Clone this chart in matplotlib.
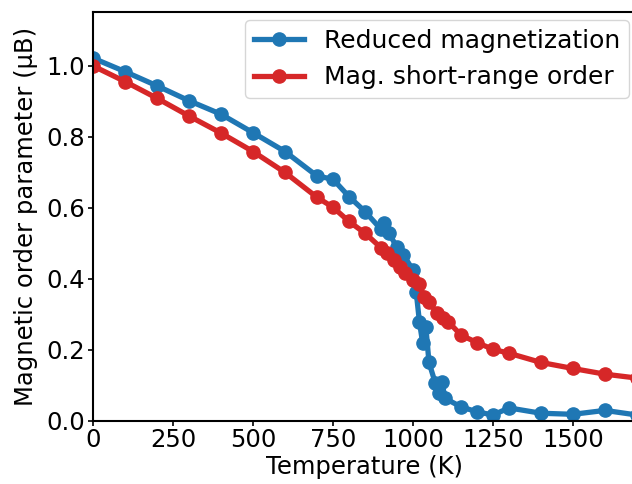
import matplotlib
matplotlib.use("Agg")
import matplotlib.pyplot as plt

# Reduced magnetization (blue)
T_mag = [0, 100, 200, 300, 400, 500, 600, 700, 750, 800, 850, 900, 910, 925,
         950, 970, 1000, 1010, 1020, 1030, 1040, 1050, 1070, 1080, 1090, 1100,
         1150, 1200, 1250, 1300, 1400, 1500, 1600, 1700]
M_mag = [1.021, 0.983, 0.943, 0.901, 0.863, 0.811, 0.758, 0.689, 0.680, 0.631,
         0.589, 0.539, 0.558, 0.528, 0.488, 0.467, 0.424, 0.363, 0.279, 0.220,
         0.265, 0.164, 0.105, 0.077, 0.110, 0.063, 0.039, 0.025, 0.016, 0.036,
         0.021, 0.018, 0.029, 0.016]

# Magnetic short-range order (red)
T_sro = [0, 100, 200, 300, 400, 500, 600, 700, 750, 800, 850, 900, 920, 940,
         960, 975, 1000, 1020, 1035, 1050, 1075, 1095, 1110, 1150, 1200, 1250,
         1300, 1400, 1500, 1600, 1700]
M_sro = [0.999, 0.955, 0.908, 0.858, 0.810, 0.758, 0.699, 0.629, 0.601, 0.561,
         0.528, 0.487, 0.471, 0.452, 0.433, 0.415, 0.397, 0.384, 0.347, 0.333,
         0.304, 0.289, 0.279, 0.241, 0.220, 0.201, 0.190, 0.164, 0.147, 0.131,
         0.120]

xticks = [0, 250, 500, 750, 1000, 1250, 1500]
yticks = [0.0, 0.2, 0.4, 0.6, 0.8, 1.0]

plt.rcParams['font.family'] = ['DejaVu Sans']
plt.rcParams['font.size'] = 17.5

fig = plt.figure(figsize=(6.32, 4.84), dpi=100)
W, H = 632, 484
left, right, top, bottom = 93, 637, 12.3, 420.7
ax = fig.add_axes([left / W, 1 - bottom / H, (right - left) / W, (bottom - top) / H])

ax.plot(T_mag, M_mag, '-o', color='#1f77b4', lw=3.8, ms=9.5, label='Reduced magnetization')
ax.plot(T_sro, M_sro, '-o', color='#d62728', lw=3.8, ms=9.5, label='Mag. short-range order')

ax.set_xlim(0, 1700)
ax.set_ylim(0, 1.15)
ax.set_xticks(xticks)
ax.set_yticks(yticks)
ax.set_yticklabels([f"{v:.1f}" for v in yticks])
ax.set_xlabel('Temperature (K)', labelpad=2)
ax.set_ylabel('Magnetic order parameter (μB)', labelpad=6)
for s in ax.spines.values():
    s.set_linewidth(1.5)
ax.tick_params(width=1.2, pad=2)

ax.legend(loc='upper right', bbox_to_anchor=(629 / W, 1 - 20 / H),
          bbox_transform=fig.transFigure, borderaxespad=0, fontsize=18,
          handlelength=2.0, borderpad=0.35)

fig.savefig('out.png', dpi=100)
